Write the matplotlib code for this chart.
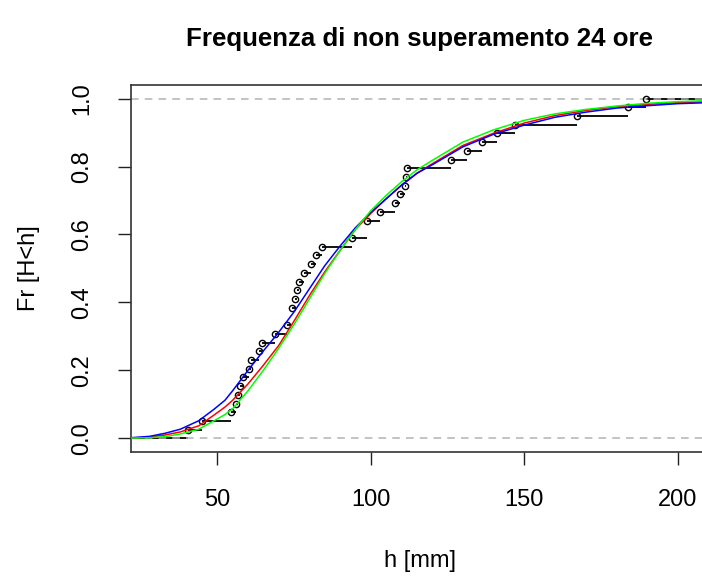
import matplotlib

matplotlib.use("Agg")
import matplotlib.pyplot as plt
import numpy as np

plt.rcParams["font.family"] = ["Liberation Sans", "DejaVu Sans"]

# piogge massime annue di durata 24 ore [mm] (campione ordinato, con valori ripetuti)
h_obs = [40.5, 45.1, 54.5, 56.1, 56.9, 57.5, 58.5, 60.2, 60.9, 63.5,
         64.6, 68.9, 72.7, 74.3, 74.3, 75.3, 76.0, 76.7, 78.3, 80.5,
         82.2, 84.0, 93.8, 98.7, 98.7, 103.0, 107.9, 109.6, 111.3, 111.5,
         111.8, 126.1, 131.4, 136.1, 141.2, 147.0, 167.1, 183.9, 189.6]

# curve delle distribuzioni adattate
h_curve = [22, 28, 33, 38, 44, 49, 52.5, 55, 60, 65, 70, 75, 80, 85, 90, 95, 100,
           105, 110, 115, 120, 130, 140, 150, 160, 170, 180, 190, 200, 210]
F_rosso = [0.001, 0.004, 0.010, 0.019, 0.037, 0.069, 0.092, 0.112, 0.160, 0.215, 0.273,
           0.345, 0.420, 0.490, 0.553, 0.615, 0.662, 0.705, 0.745, 0.780, 0.808,
           0.862, 0.898, 0.928, 0.950, 0.965, 0.976, 0.983, 0.988, 0.991]
F_verde = [0.001, 0.002, 0.005, 0.013, 0.027, 0.052, 0.070, 0.087, 0.140, 0.200, 0.265,
           0.335, 0.410, 0.485, 0.553, 0.615, 0.670, 0.715, 0.755, 0.790, 0.818,
           0.872, 0.908, 0.936, 0.955, 0.968, 0.978, 0.986, 0.991, 0.994]
F_blu = [0.002, 0.006, 0.015, 0.027, 0.052, 0.086, 0.112, 0.140, 0.200, 0.257, 0.312,
         0.372, 0.440, 0.508, 0.566, 0.620, 0.665, 0.705, 0.745, 0.780, 0.805,
         0.858, 0.895, 0.922, 0.945, 0.960, 0.972, 0.979, 0.985, 0.988]

x_ticks = [50, 100, 150, 200]
y_ticks = [0.0, 0.2, 0.4, 0.6, 0.8, 1.0]


def main():
    fig = plt.figure(figsize=(7.02, 5.82), dpi=100)
    ax = fig.add_axes([0.1866, 0.2234, 0.822, 0.6306])
    ax.set_xlim(21.93, 209.8)
    ax.set_ylim(-0.04, 1.04)
    x0, x1 = ax.get_xlim()

    # ecdf a gradini (stile plot.ecdf di R)
    xs, counts = np.unique(h_obs, return_counts=True)
    Fs = np.cumsum(counts) / len(h_obs)
    ax.hlines(Fs[:-1], xs[:-1], xs[1:], color="black", lw=1.3, zorder=2)
    ax.hlines([0.0], [x0], [xs[0]], color="black", lw=1.3, zorder=2)
    ax.hlines([1.0], [xs[-1]], [x1], color="black", lw=1.3, zorder=2)
    ax.plot(xs, Fs, "o", mfc="none", mec="black", ms=4.5, mew=1.0, zorder=3)
    ax.axhline(0.0, color="#b3b3b3", lw=1.1, ls=(0, (5, 4)), zorder=2.5)
    ax.axhline(1.0, color="#b3b3b3", lw=1.1, ls=(0, (5, 4)), zorder=2.5)

    ax.plot(h_curve, F_rosso, color="#ff0000", lw=1.1, zorder=4)
    ax.plot(h_curve, F_blu, color="#0000ff", lw=1.1, zorder=4)
    ax.plot(h_curve, F_verde, color="#00ff00", lw=1.1, zorder=4)

    ax.set_xticks(x_ticks)
    ax.set_yticks(y_ticks)
    ax.set_xticklabels([str(v) for v in x_ticks])
    ax.set_yticklabels([f"{v:.1f}" for v in y_ticks], rotation=90, va="center")
    ax.tick_params(axis="both", length=9.5, width=1.0, labelsize=17, color="#222222")
    ax.tick_params(axis="x", pad=17)
    ax.tick_params(axis="y", pad=18)
    for sp in ax.spines.values():
        sp.set_color("#333333")
        sp.set_linewidth(1.2)

    ax.set_xlabel("h [mm]", fontsize=17, labelpad=28)
    ax.set_ylabel("Fr [H<h]", fontsize=17, labelpad=22)
    ax.set_title("Frequenza di non superamento 24 ore", fontsize=18.6, fontweight="bold", pad=28)

    fig.savefig("out.png", dpi=100)
    plt.close(fig)


if __name__ == "__main__":
    main()
